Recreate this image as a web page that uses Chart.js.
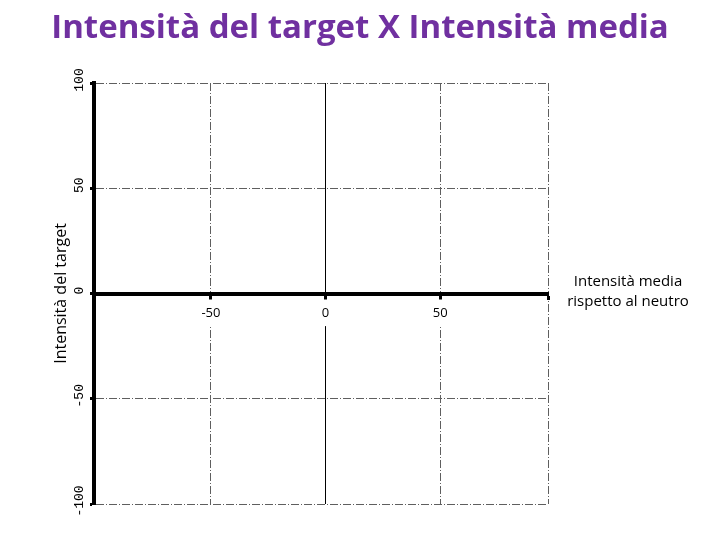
<!DOCTYPE html>
<html lang="it">
<head>
<meta charset="utf-8">
<title>Intensità del target X Intensità media</title>
<script src="https://cdn.jsdelivr.net/npm/chart.js@4.4.1/dist/chart.umd.min.js"></script>
<style>
    html, body { margin: 0; padding: 0; background: #fff; }
    #wrap { width: 720px; height: 540px; position: relative; }
</style>
</head>
<body>
<div id="wrap"><canvas id="graf"></canvas></div>
<script>
// testi e valori degli assi (il quadrante è vuoto, solo assi e griglia)
const titolo = 'Intensità del target X Intensità media';
const titoloY = 'Intensità del target';
const titoloX = ['Intensità media', 'rispetto al neutro'];
const tickX = [-50, 0, 50];
const tickY = [-100, -50, 0, 50, 100];
const limiteX = [-101, 97];
const limiteY = [-100, 100];

const grigio = '#5f5f5f';
const trasparente = 'rgba(0,0,0,0)';
const tratteggio = [8, 2, 1, 2];

// etichetta a destra dell'asse X, all'altezza dello zero
const etichettaDestra = {
    id: 'etichettaDestra',
    afterDraw(chart) {
        const { ctx, chartArea, scales } = chart;
        const y0 = scales.y.getPixelForValue(0);
        ctx.save();
        ctx.font = '15px "Open Sans"';
        ctx.fillStyle = '#000';
        ctx.textAlign = 'center';
        ctx.textBaseline = 'middle';
        titoloX.forEach(function (riga, i) {
            ctx.fillText(riga, chartArea.right + 80, y0 - 12 + i * 20);
        });
        ctx.restore();
    }
};

function createChart() {
    const ctx = document.getElementById('graf');
    new Chart(ctx, {
        type: 'scatter',
        data: { datasets: [{ data: [] }] },
        options: {
            responsive: true,
            maintainAspectRatio: false,
            animation: false,
            layout: { padding: { left: 0, right: 0, top: 0, bottom: 36 } },
            plugins: {
                legend: { display: false },
                tooltip: { enabled: false },
                title: {
                    display: true,
                    text: titolo,
                    color: '#7030A0',
                    font: { family: 'Open Sans', size: 33, weight: 'bold' },
                    padding: { top: 9, bottom: 34.4 }
                }
            },
            scales: {
                x: {
                    type: 'linear',
                    min: limiteX[0],
                    max: limiteX[1],
                    position: { y: 0 },
                    afterBuildTicks: function (s) {
                        s.ticks = [limiteX[0]].concat(tickX, [limiteX[1]]).map(v => ({ value: v }));
                    },
                    afterFit: function (s) { s.height = 0; s.paddingLeft = 0; s.paddingRight = 0; },
                    grid: {
                        color: c => (c.tick && (c.tick.value === 0 || c.tick.value === limiteX[0])) ? trasparente : grigio,
                        lineWidth: 1,
                        tickLength: 4,
                        tickWidth: 3,
                        tickColor: '#000'
                    },
                    border: { display: true, color: '#000', width: 4, dash: tratteggio },
                    ticks: {
                        autoSkip: false,
                        minRotation: 0,
                        maxRotation: 0,
                        padding: 8,
                        color: '#000',
                        font: { family: 'Open Sans', size: 13 },
                        callback: v => tickX.includes(v) ? String(v) : '',
                        showLabelBackdrop: true,
                        backdropColor: c => (c.tick && tickX.includes(c.tick.value)) ? '#fff' : trasparente,
                        backdropPadding: { top: 6, bottom: 5, left: 2, right: 2 }
                    }
                },
                // asse solo per la linea verticale continua sullo zero
                x2: {
                    type: 'linear',
                    min: limiteX[0],
                    max: limiteX[1],
                    position: 'bottom',
                    afterBuildTicks: function (s) { s.ticks = [{ value: 0 }]; },
                    afterFit: function (s) { s.height = 0; s.paddingLeft = 0; s.paddingRight = 0; },
                    grid: { color: '#000', lineWidth: 1, drawTicks: false, z: -1 },
                    border: { display: false },
                    ticks: { display: false }
                },
                y: {
                    type: 'linear',
                    min: limiteY[0],
                    max: limiteY[1],
                    afterBuildTicks: function (s) { s.ticks = tickY.map(v => ({ value: v })); },
                    afterFit: function (s) { s.width = 94; s.paddingTop = 0; s.paddingBottom = 0; },
                    grid: {
                        color: c => (c.tick && c.tick.value === 0) ? trasparente : grigio,
                        lineWidth: 1,
                        tickLength: 4,
                        tickWidth: 3,
                        tickColor: '#000'
                    },
                    border: { display: true, color: '#000', width: 4, dash: tratteggio },
                    ticks: {
                        minRotation: 90,
                        maxRotation: 90,
                        crossAlign: 'center',
                        padding: -5,
                        labelOffset: -3,
                        color: '#000',
                        font: { family: 'Liberation Mono', size: 13 }
                    },
                    title: {
                        display: true,
                        text: titoloY,
                        color: '#000',
                        font: { family: 'Open Sans', size: 16 },
                        padding: { top: 52, bottom: 0 }
                    }
                },
                // asse vuoto a destra: lascia lo spazio per l'etichetta dell'asse X
                y2: {
                    type: 'linear',
                    position: 'right',
                    min: limiteY[0],
                    max: limiteY[1],
                    afterFit: function (s) { s.width = 172; s.paddingTop = 0; s.paddingBottom = 0; },
                    grid: { drawOnChartArea: false, drawTicks: false },
                    border: { display: false },
                    ticks: { display: false }
                }
            }
        },
        plugins: [etichettaDestra]
    });
}

document.addEventListener('DOMContentLoaded', function () {
    createChart();
});
</script>
</body>
</html>
